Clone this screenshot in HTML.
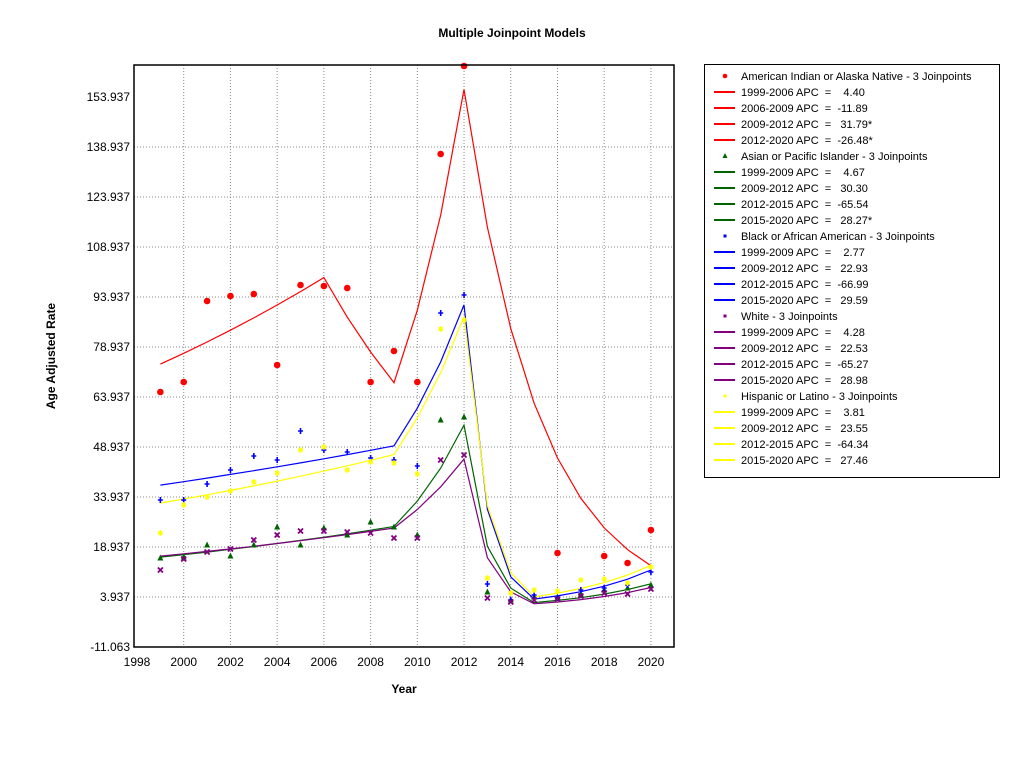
<!DOCTYPE html>
<html><head><meta charset="utf-8"><style>
html,body{margin:0;padding:0;background:#fff;}
svg{display:block;font-family:"Liberation Sans","DejaVu Sans",sans-serif;}
</style></head><body>
<svg id="s" width="1024" height="768" xmlns="http://www.w3.org/2000/svg">
<text x="512" y="37" text-anchor="middle" font-size="12" font-weight="bold">Multiple Joinpoint Models</text>
<text x="404" y="693" text-anchor="middle" font-size="12" font-weight="bold">Year</text>
<text transform="translate(55,356) rotate(-90)" text-anchor="middle" font-size="12" font-weight="bold">Age Adjusted Rate</text>
<g id="grid"></g>
<g id="lines"></g>
<g id="pts"></g>
<rect x="134" y="65" width="540" height="582" fill="none" stroke="#000" stroke-width="1.5"/>
<rect x="704.5" y="64.5" width="295" height="413" fill="none" stroke="#000" stroke-width="1"/>
<g id="leg" font-size="11"></g>
</svg>
<script>
var NS="http://www.w3.org/2000/svg";
function el(p,t,a,txt){var e=document.createElementNS(NS,t);for(var k in a)e.setAttribute(k,a[k]);if(txt!=null)e.textContent=txt;document.getElementById(p).appendChild(e);return e;}
function X(yr){return 137+(yr-1998)*23.36;}
function Yv(v){return 597-(v-3.937)*50/15;}
for(var i=0;i<12;i++){var v=-11.063+15*i,y=Yv(v);
 if(i>0&&i<11)el("grid","line",{x1:134,x2:674,y1:y,y2:y,stroke:"#888","stroke-dasharray":"1,2"});
 el("grid","text",{x:130,y:y+4,"text-anchor":"end","font-size":"12"},v.toFixed(3));}
for(var yr=1998;yr<=2020;yr+=2){var x=X(yr);
 if(yr>1998)el("grid","line",{x1:x,x2:x,y1:65,y2:647,stroke:"#888","stroke-dasharray":"1,2"});
 el("grid","text",{x:x,y:666,"text-anchor":"middle","font-size":"12"},yr);}
var S=[
 {c:"#ff0000",v0:73.8,seg:[[2006,4.40],[2009,-11.89],[2012,31.79],[2020,-26.48]],m:"dot",
  p:[392,382,301,296,294,365,285,286,288,382,351,382,154,66,null,null,null,553,null,556,563,530]},
 {c:"#006400",v0:15.9,seg:[[2009,4.67],[2012,30.30],[2015,-65.54],[2020,28.27]],m:"tri",
  p:[558,557,545,556,545,527,545,528,535,522,527,535,420,417,592,600,597,597,594,590,588,585]},
 {c:"#0000ff",v0:37.5,seg:[[2009,2.77],[2012,22.93],[2015,-66.99],[2020,29.59]],m:"plus",
  p:[500,500,484,470,456,460,431,450,452,458,460,466,313,295,584,600,595,598,590,588,585,572]},
 {c:"#800080",v0:16.2,seg:[[2009,4.28],[2012,22.53],[2015,-65.27],[2020,28.98]],m:"x",
  p:[570,559,552,549,540,535,531,531,532,533,538,538,460,455,598,602,600,599,596,593,594,589]},
 {c:"#ffff00",v0:32.1,seg:[[2009,3.81],[2012,23.55],[2015,-64.34],[2020,27.46]],m:"star",
  p:[533,505,497,491,482,473,450,447,470,462,463,474,329,320,578,593,590,591,580,579,583,567]}
];
function marker(m,x,y,c){
 if(m=="dot")el("pts","circle",{cx:x,cy:y,r:3.3,fill:c});
 else if(m=="tri")el("pts","polygon",{points:(x)+","+(y-3.5)+" "+(x-3)+","+(y+2.5)+" "+(x+3)+","+(y+2.5),fill:c});
 else if(m=="plus")el("pts","path",{d:"M"+(x-2.5)+" "+y+"h5M"+x+" "+(y-3)+"v6",stroke:c,"stroke-width":1.6});
 else if(m=="x")el("pts","path",{d:"M"+(x-2.5)+" "+(y-2.5)+"l5 5M"+(x+2.5)+" "+(y-2.5)+"l-5 5",stroke:c,"stroke-width":1.8});
 else el("pts","path",{d:"M"+(x-2.5)+" "+y+"h5M"+x+" "+(y-3)+"v6M"+(x-2)+" "+(y-2)+"l4 4M"+(x+2)+" "+(y-2)+"l-4 4",stroke:c,"stroke-width":1.2});
}
S.forEach(function(s){
 var v=s.v0,yr=1999,pts=[[X(1999),Yv(v)]],si=0;
 for(yr=2000;yr<=2020;yr++){while(s.seg[si][0]<yr)si++;v*=1+s.seg[si][1]/100;pts.push([X(yr),Yv(v)]);}
 el("lines","polyline",{points:pts.map(function(p){return p[0].toFixed(1)+","+p[1].toFixed(1)}).join(" "),fill:"none",stroke:s.c,"stroke-width":1.2});
 s.p.forEach(function(y,i){if(y!=null)marker(s.m,X(1999+i),y,s.c);});
});
var L=[
 ["dot","#ff0000","American Indian or Alaska Native - 3 Joinpoints",["1999-2006 APC  =    4.40","2006-2009 APC  =  -11.89","2009-2012 APC  =   31.79*","2012-2020 APC  =  -26.48*"]],
 ["tri","#006400","Asian or Pacific Islander - 3 Joinpoints",["1999-2009 APC  =    4.67","2009-2012 APC  =   30.30","2012-2015 APC  =  -65.54","2015-2020 APC  =   28.27*"]],
 ["plus","#0000ff","Black or African American - 3 Joinpoints",["1999-2009 APC  =    2.77","2009-2012 APC  =   22.93","2012-2015 APC  =  -66.99","2015-2020 APC  =   29.59"]],
 ["x","#800080","White - 3 Joinpoints",["1999-2009 APC  =    4.28","2009-2012 APC  =   22.53","2012-2015 APC  =  -65.27","2015-2020 APC  =   28.98"]],
 ["star","#ffff00","Hispanic or Latino - 3 Joinpoints",["1999-2009 APC  =    3.81","2009-2012 APC  =   23.55","2012-2015 APC  =  -64.34","2015-2020 APC  =   27.46"]]
];
var row=0;
L.forEach(function(g){
 var y=76+row*16;
 if(g[0]=="dot")el("leg","circle",{cx:725,cy:y,r:2.3,fill:g[1]});
 else if(g[0]=="tri")el("leg","polygon",{points:"725,"+(y-3)+" 722.5,"+(y+2)+" 727.5,"+(y+2),fill:g[1]});
 else el("leg","rect",{x:723.5,y:y-1.5,width:3,height:3,fill:g[1]});
 el("leg","text",{x:741,y:y+4},g[2]);row++;
 g[3].forEach(function(t){var y=76+row*16;
  el("leg","line",{x1:714,x2:735,y1:y,y2:y,stroke:g[1],"stroke-width":2});
  var tx=el("leg","text",{x:741,y:y+4},t);tx.setAttribute("style","white-space:pre");row++;});
});
</script>
</body></html>
